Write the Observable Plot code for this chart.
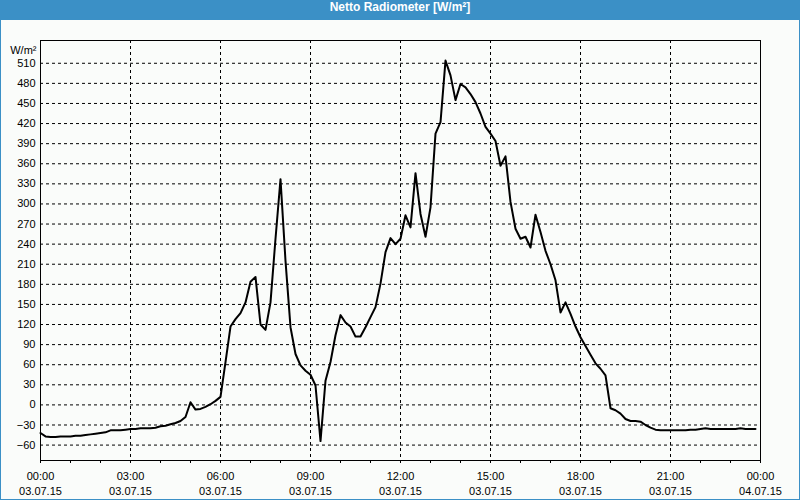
<!DOCTYPE html>
<html>
<head>
<meta charset="utf-8">
<script src="https://cdn.jsdelivr.net/npm/d3@7"></script>
<script src="https://cdn.jsdelivr.net/npm/@observablehq/plot@0.6"></script>
<style>
  html, body { margin: 0; padding: 0; background: #fafcfa; }
  #wrap { position: relative; width: 800px; height: 500px; background: #fafcfa; overflow: hidden; }
  #title { position: absolute; left: 0; top: 0; width: 800px; height: 20px; line-height: 20px;
           background: #3b90c6; color: #fff; font: bold 12px "Liberation Sans", Arial, sans-serif;
           text-align: center; }
  #chart { position: absolute; left: 0; top: 20px; }
  #border { position: absolute; left: 0; top: 0; width: 800px; height: 500px; box-sizing: border-box;
            border: 1px solid #3b90c6; pointer-events: none; }
</style>
</head>
<body>
<div id="wrap">
  <div id="title">Netto Radiometer [W/m²]</div>
  <div id="chart"></div>
  <div id="border"></div>
</div>
<script>
// Netto radiation every 10 minutes, 03.07.15 00:00 .. 23:50
const values = [
  -42,-47,-48,-48,-47,-47,-47,-46,-46,-45,
  -44,-43,-42,-41,-38,-38,-38,-37,-36,-36,
  -35,-35,-35,-34,-32,-31,-29,-27,-24,-18,
  4,-7,-6,-3,1,6,12,64,117,128,
  137,153,184,191,120,112,153,248,337,215,
  116,76,59,51,45,29,-54,36,64,104,
  134,123,117,102,102,116,131,146,181,228,
  249,240,248,283,265,346,285,251,295,405,
  422,514,492,455,479,474,464,452,435,415,
  405,394,357,371,303,263,248,251,235,284,
  258,230,210,186,138,153,136,117,101,88,
  75,62,54,44,-5,-8,-13,-21,-24,-24,
  -25,-30,-34,-37,-38,-38,-38,-38,-38,-38,
  -37,-37,-36,-35,-36,-36,-36,-36,-36,-36,
  -35,-36,-36,-36
];
const yTicks = [-60,-30,0,30,60,90,120,150,180,210,240,270,300,330,360,390,420,450,480,510];
const xTickLabels = [
  "00:00\n03.07.15","03:00\n03.07.15","06:00\n03.07.15","09:00\n03.07.15",
  "12:00\n03.07.15","15:00\n03.07.15","18:00\n03.07.15","21:00\n03.07.15","00:00\n04.07.15"
];
const yUnit = "W/m²";

const start = Date.UTC(2015, 6, 3, 0, 0);
const end = Date.UTC(2015, 6, 4, 0, 0);
const data = values.map((v, i) => ({t: new Date(start + i * 600000), v}));
const majorTicks = xTickLabels.map((_, i) => new Date(start + i * 3 * 3600000));
const labelMap = new Map(majorTicks.map((d, i) => [+d, xTickLabels[i]]));
const hourTicks = d3.utcHour.range(new Date(start), new Date(end + 1));

const chart = Plot.plot({
  width: 800,
  height: 480,
  marginTop: 20,
  marginBottom: 40,
  marginLeft: 40,
  marginRight: 40,
  style: {background: "transparent", fontFamily: "Liberation Sans, Arial, sans-serif", fontSize: "11px", color: "#000"},
  x: {type: "utc", domain: [new Date(start), new Date(end)]},
  y: {domain: [-83, 544]},
  marks: [
    Plot.gridX(majorTicks, {stroke: "#000", strokeOpacity: 1, strokeDasharray: "3,3"}),
    Plot.gridY(yTicks, {stroke: "#000", strokeOpacity: 1, strokeDasharray: "3,3"}),
    Plot.frame({stroke: "#000"}),
    Plot.axisY(yTicks, {tickSize: 0, tickPadding: 5, label: null, fill: "#000"}),
    Plot.axisX(hourTicks, {tickSize: 3, tickFormat: () => "", label: null, stroke: "#000"}),
    Plot.axisX(majorTicks, {tickSize: 3, tickPadding: 6, label: null, fill: "#000", lineHeight: 1.36,
      tickFormat: d => labelMap.get(+d)}),
    Plot.lineY(data, {x: "t", y: "v", stroke: "#000", strokeWidth: 2}),
    Plot.text([yUnit], {frameAnchor: "top-left", dx: -4, dy: 6, textAnchor: "end", fill: "#000"})
  ]
});
document.getElementById("chart").appendChild(chart);
</script>
</body>
</html>
